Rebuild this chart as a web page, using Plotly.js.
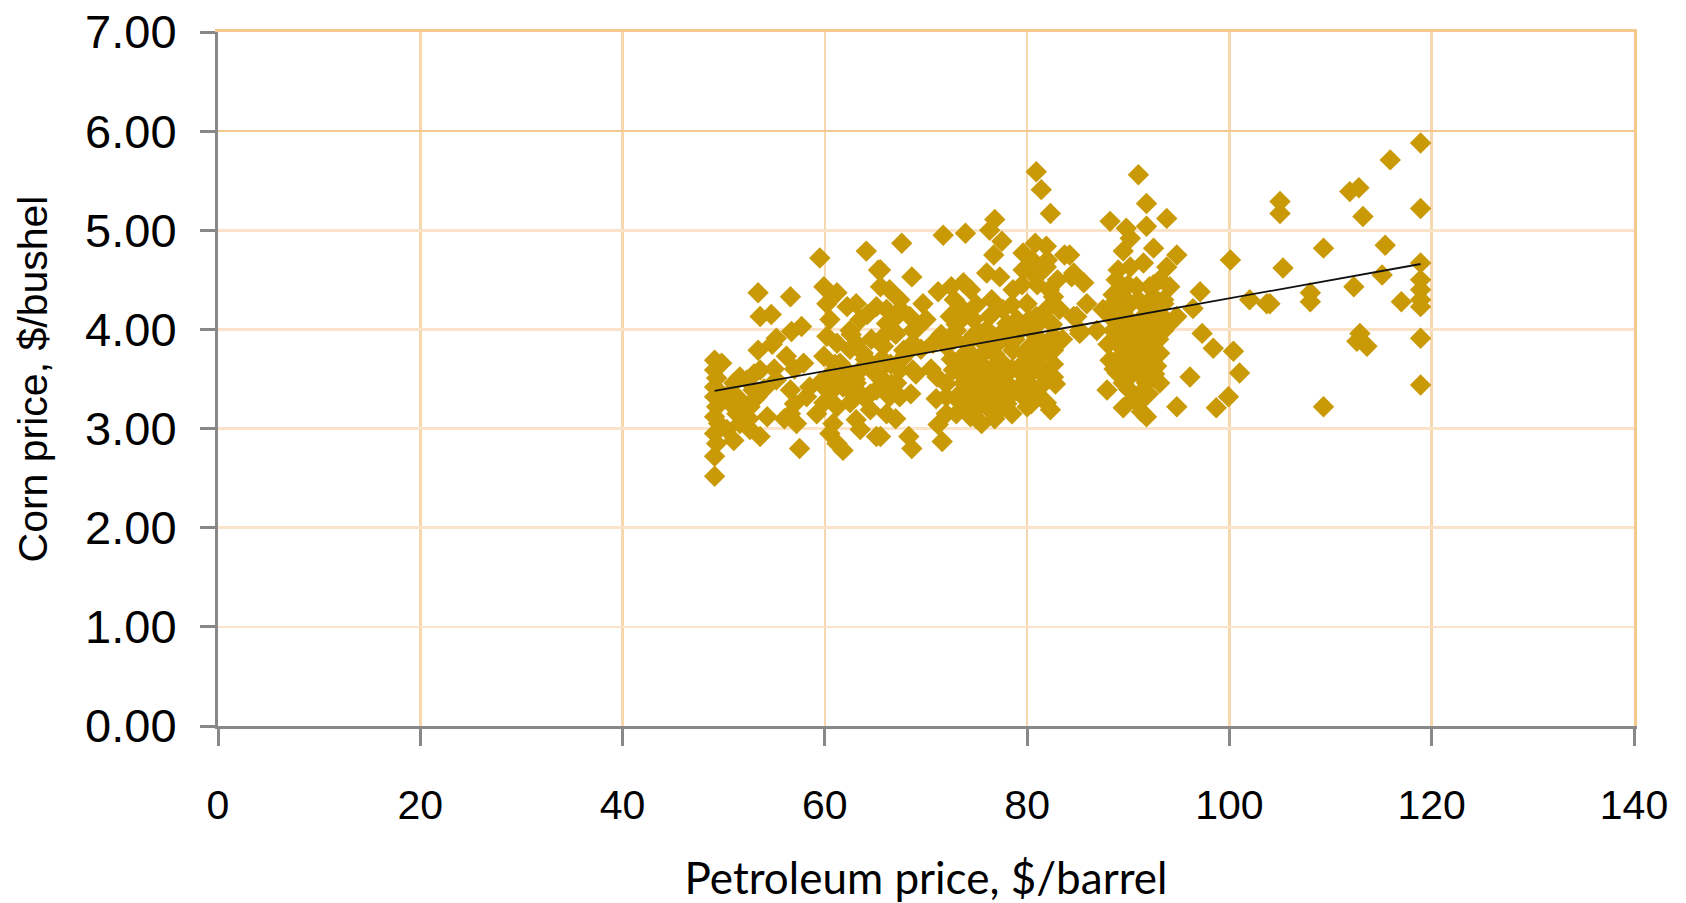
<!DOCTYPE html>
<html>
<head>
<meta charset="utf-8">
<script src="https://cdn.plot.ly/plotly-3.0.1.min.js"></script>
<style>
  html, body { margin: 0; padding: 0; background: #ffffff; }
  #chart { width: 1686px; height: 903px; }
</style>
</head>
<body>
<div id="chart"></div>
<script>
// Petroleum price ($/barrel) vs corn price ($/bushel)
const petroleumPrice = [
  49.1,49.1,49.3,49.1,49.1,49.3,49.1,49.5,49.1,49.3,49.1,49.1,49.8,
  51.0,51.6,52.3,52.9,50.6,51.3,51.9,52.6,53.3,50.3,51.0,51.6,52.6,
  53.4,56.6,53.6,54.7,55.2,53.4,53.6,56.7,57.7,56.2,57.9,55.2,56.6,54.3,53.6,56.6,57.2,57.5,58.2,58.5,59.5,
  59.9,60.2,61.2,62.2,63.1,64.1,65.3,65.5,65.1,66.1,60.2,61.2,62.5,63.1,59.9,61.5,63.8,64.5,65.8,59.5,60.5,61.8,63.1,59.9,61.2,62.5,63.8,65.1,59.2,60.8,63.1,64.5,60.5,61.2,61.8,65.1,63.5,65.8,
  80.9,81.4,82.3,67.6,71.7,73.9,76.8,76.3,77.5,76.7,65.5,68.6,79.6,80.8,81.9,83.7,81.9,84.4,76.0,77.3,73.7,72.5,71.2,74.4,78.6,79.6,80.9,66.4,67.4,69.7,66.1,68.4,66.8,68.7,
  73.4,72.4,74.7,76.3,77.6,78.0,80.0,80.9,82.6,81.9,84.6,85.2,73.0,75.3,76.7,79.3,80.9,82.6,70.7,72.0,74.0,74.7,76.0,77.3,78.6,80.3,81.3,82.6,68.7,67.8,66.1,67.4,68.7,65.8,67.1,66.4,67.4,66.1,
  71.1,72.7,73.7,75.3,76.7,78.0,80.0,81.3,82.6,72.0,73.4,74.7,76.0,77.3,79.6,80.9,81.9,73.0,74.4,76.3,77.6,80.0,82.3,72.0,71.2,71.6,68.3,68.6,65.5,
  91.0,91.8,93.8,88.2,89.8,91.8,90.2,92.5,89.5,94.8,100.1,84.2,84.6,85.6,85.9,84.9,85.2,90.2,91.5,93.8,93.1,94.1,97.1,96.4,102.0,103.7,89.2,90.8,92.1,88.5,90.2,91.8,93.5,94.8,88.2,89.8,91.5,93.1,
  86.9,88.5,90.2,91.8,93.5,88.9,90.5,92.1,93.1,97.3,98.4,100.4,101.0,96.1,88.2,89.8,91.5,92.8,88.9,90.5,91.8,93.1,87.9,89.5,91.5,89.5,91.3,91.8,94.8,98.7,99.9,
  118.9,115.9,105.0,105.0,111.9,112.8,113.2,118.9,105.3,109.3,115.4,118.9,118.9,118.9,118.9,118.9,104.0,108.0,108.0,112.3,115.1,117.0,112.9,112.6,113.6,118.9,118.9,109.3,
  72.5,73.5,74.5,75.5,76.5,77.5,78.5,79.5,73.0,74.0,75.0,76.0,77.0,78.0,79.0,75.5,74.5,76.0,77.0,78.0,79.0,73.0,75.0,72.0,71.0,70.5,69.5,71.5,70.0,72.8,
  80.5,81.0,81.5,82.0,82.5,81.0,80.2,82.8,83.0,80.5,82.0,83.5,
  88.5,89.0,90.0,91.0,92.0,93.0,89.5,90.5,91.5,92.5,93.5,94.0,88.0,87.5,89.0,91.0,92.5,90.0,91.0,92.0,
  62.0,63.0,64.0,65.0,66.5,67.0,68.0,69.0,63.5,62.5,61.0,64.5,66.0,67.5,69.0,68.5,67.0,
  72.8,73.8,74.8,75.8,76.8,77.8,78.8,79.8,73.5,74.5,75.5,76.5,77.5,78.5,79.5,75.0,76.8,78.5,74.0,76.5,78.5,79.5,
  80.2,81.2,82.2,83.2,80.6,81.6,82.6,80.4,
  88.8,89.6,90.4,91.2,92.2,93.2,89.4,90.6,91.6,92.6,90.0,91.2,89.8,92.8,88.6,
  60.6,61.6,62.6,63.6,64.6,65.6,66.6,67.6,62.8,64.2,66.8,60.5,
  50.5,51.5,52.5,53.0,54.0,55.0,57.0,54.8,57.0,56.0
];
const cornPrice = [
  3.69,3.59,3.51,3.42,3.32,3.22,3.12,3.05,2.95,2.85,2.72,2.52,3.66,
  3.46,3.52,3.49,3.39,3.26,3.15,3.09,3.22,3.32,2.99,2.88,3.05,2.99,
  4.37,4.33,4.13,4.15,3.91,3.79,3.59,3.98,4.03,3.73,3.66,3.49,3.39,3.12,2.92,3.15,3.05,2.80,3.32,3.42,4.72,
  4.43,4.26,4.37,4.23,4.26,4.79,4.60,4.43,4.23,4.06,3.93,3.86,3.99,3.86,3.73,3.66,3.76,3.66,3.83,3.46,3.36,3.42,3.46,3.26,3.22,3.26,3.32,3.39,3.15,3.05,3.09,3.19,2.95,2.85,2.78,2.92,2.99,3.49,
  5.59,5.41,5.17,4.87,4.95,4.97,5.11,5.00,4.89,4.75,4.60,4.53,4.77,4.87,4.84,4.75,4.63,4.53,4.57,4.53,4.47,4.43,4.38,4.40,4.40,4.60,4.53,4.40,4.30,4.26,4.20,4.13,3.99,3.99,
  4.23,4.13,4.10,4.13,4.20,4.06,4.26,4.13,4.33,4.20,4.13,3.99,3.99,3.96,3.93,3.99,3.93,3.93,3.86,3.83,3.86,3.73,3.79,3.69,3.79,3.83,3.73,3.79,3.86,3.79,3.66,3.59,3.59,3.46,3.46,3.32,3.32,3.15,
  3.52,3.59,3.46,3.52,3.59,3.46,3.52,3.59,3.52,3.32,3.36,3.32,3.39,3.32,3.32,3.36,3.26,3.15,3.12,3.19,3.22,3.22,3.19,3.15,3.04,2.87,2.92,2.80,2.92,
  5.56,5.27,5.12,5.09,5.02,5.04,4.92,4.82,4.79,4.75,4.70,4.75,4.57,4.47,4.26,4.13,3.96,4.63,4.67,4.63,4.50,4.43,4.38,4.21,4.30,4.26,4.37,4.43,4.43,4.26,4.26,4.26,4.26,4.13,4.13,4.13,4.13,4.13,
  3.99,3.99,3.99,3.99,3.99,3.86,3.86,3.86,3.76,3.96,3.81,3.78,3.56,3.52,3.69,3.69,3.69,3.63,3.56,3.56,3.46,3.46,3.39,3.46,3.39,3.21,3.17,3.12,3.22,3.21,3.32,
  5.88,5.71,5.29,5.17,5.39,5.43,5.14,5.22,4.62,4.82,4.85,4.67,4.50,4.40,4.30,4.23,4.26,4.37,4.28,4.43,4.55,4.28,3.96,3.88,3.83,3.91,3.44,3.22,
  3.70,3.65,3.55,3.65,3.45,3.55,3.60,3.65,3.30,3.25,3.20,3.28,3.18,3.25,3.40,3.05,3.90,4.00,3.85,3.90,4.10,4.05,4.25,3.45,3.30,3.60,3.80,3.95,4.10,4.30,
  4.00,4.45,4.10,3.85,4.05,3.60,3.45,3.45,4.50,4.70,4.70,3.90,
  4.35,4.05,3.80,3.95,4.20,3.90,3.55,3.30,3.60,3.75,4.30,4.05,3.85,4.20,4.60,4.30,4.45,4.45,3.25,3.35,
  3.60,3.50,3.70,3.55,3.65,3.95,3.75,3.55,4.10,3.80,3.65,3.35,3.95,4.20,4.00,3.35,3.10,
  3.90,3.75,3.95,3.85,3.75,4.00,3.90,3.75,3.55,3.40,3.35,3.60,3.45,3.35,3.55,3.10,3.10,3.15,4.15,4.30,4.25,4.45,
  4.10,3.85,4.40,4.20,3.70,3.45,3.65,3.25,
  4.50,4.20,4.05,3.80,4.05,4.15,3.75,3.70,3.50,3.55,3.40,3.35,3.95,4.30,3.60,
  3.55,3.45,3.95,3.60,3.90,3.70,3.45,3.70,3.35,4.15,4.10,4.10,
  3.35,3.30,3.10,3.55,3.40,3.60,3.60,3.85,3.25,3.10
];
// Linear trendline endpoints
const trendX = [49.1, 118.9];
const trendY = [3.38, 4.66];

const xTickVals = [0, 20, 40, 60, 80, 100, 120, 140];
const yTickVals = [0, 1, 2, 3, 4, 5, 6, 7];
const yStrongGrid = [6];

const gridStrong = '#F4C98E';

const traces = [
  {
    type: 'scatter', mode: 'markers',
    x: petroleumPrice, y: cornPrice,
    marker: { symbol: 'diamond', size: 16.5, color: '#C99A06', line: { width: 0 } },
    hoverinfo: 'x+y', showlegend: false
  },
  {
    type: 'scatter', mode: 'lines',
    x: trendX, y: trendY,
    line: { color: '#111111', width: 1.8 },
    hoverinfo: 'skip', showlegend: false
  },
  {
    // empty trace so the frame axes (top / right edges) get drawn
    type: 'scatter', mode: 'markers', x: [], y: [],
    xaxis: 'x2', yaxis: 'y2', hoverinfo: 'skip', showlegend: false
  }
];

const layout = {
  width: 1686, height: 903,
  paper_bgcolor: '#ffffff', plot_bgcolor: '#ffffff',
  margin: { l: 218, r: 52, t: 32, b: 177 },
  showlegend: false,
  xaxis: {
    range: [0, 140], tickvals: xTickVals, ticktext: xTickVals.map(String),
    showgrid: true, gridcolor: '#F7D7AE', gridwidth: 2.5,
    zeroline: false,
    showline: true, linecolor: '#888888', linewidth: 3,
    ticks: 'outside', ticklen: 17, tickwidth: 3, tickcolor: '#888888',
    ticklabelstandoff: 24,
    tickfont: { family: 'Liberation Sans, Arial, sans-serif', size: 41, color: '#000000' },
    title: {
      text: 'Petroleum price, $/barrel',
      font: { family: 'Lato, Calibri, sans-serif', size: 44, color: '#000000' },
      standoff: 44
    },
    fixedrange: true
  },
  yaxis: {
    range: [0, 7], tickvals: yTickVals, tickformat: '.2f',
    showgrid: true, gridcolor: '#FAE3C8', gridwidth: 2.5,
    zeroline: false,
    showline: true, linecolor: '#888888', linewidth: 3,
    ticks: 'outside', ticklen: 15, tickwidth: 3, tickcolor: '#888888',
    ticklabelstandoff: 14,
    tickfont: { family: 'Liberation Sans, Arial, sans-serif', size: 47, color: '#000000' },
    title: {
      text: 'Corn price, $/bushel',
      font: { family: 'Liberation Sans, Arial, sans-serif', size: 41, color: '#000000' },
      standoff: 25
    },
    fixedrange: true
  },
  xaxis2: {
    overlaying: 'x', anchor: 'y2', side: 'top',
    range: [0, 140], showgrid: false, zeroline: false,
    showline: true, linecolor: gridStrong, linewidth: 3,
    showticklabels: false, ticks: '',
    fixedrange: true
  },
  yaxis2: {
    overlaying: 'y', anchor: 'x2', side: 'right',
    range: [0, 7], tickvals: yStrongGrid,
    showgrid: true, gridcolor: gridStrong, gridwidth: 2.5,
    showline: true, linecolor: gridStrong, linewidth: 3,
    showticklabels: false, ticks: '', zeroline: false,
    fixedrange: true
  }
};

Plotly.newPlot('chart', traces, layout, { displayModeBar: false, staticPlot: true });
</script>
</body>
</html>
